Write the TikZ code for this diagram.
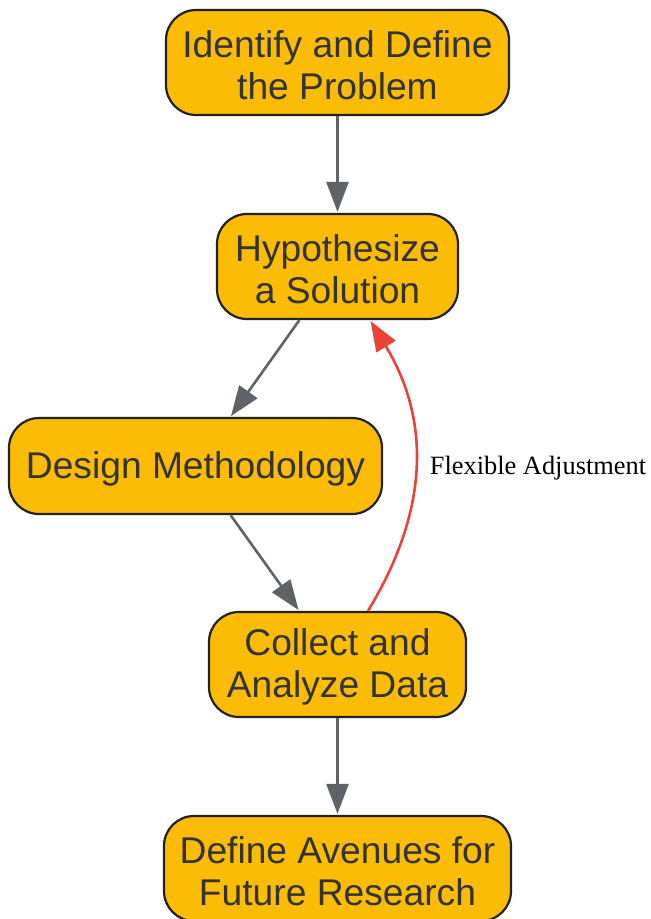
\documentclass[tikz,border=0pt]{standalone}
\usepackage{fontspec}
\setmainfont{Liberation Sans}
\newfontfamily\labelfont{Liberation Serif}
\usetikzlibrary{arrows.meta,calc}
\definecolor{boxfill}{HTML}{FBBC05}
\definecolor{boxline}{HTML}{222222}
\definecolor{boxtext}{HTML}{333333}
\definecolor{edgegray}{HTML}{5F6368}
\definecolor{edgered}{HTML}{EA4335}
\tikzset{
  stepbox/.style={draw=boxline, fill=boxfill, line width=2.2pt, rounded corners=30pt,
    align=center, text=boxtext, inner sep=0pt,
    font=\fontsize{37.2}{42.5}\selectfont},
  steptext/.style={yshift=-2.5pt},
  flow/.style={draw=edgegray, line width=2.6pt, -{Triangle[length=30pt,width=22pt]}, shorten >=1pt},
  adjust/.style={draw=edgered, line width=2.6pt, -{Triangle[length=30pt,width=22pt]}, shorten >=1pt},
  edgelabel/.style={font=\labelfont\fontsize{26.4}{30}\selectfont, text=black, inner sep=0pt}
}
\begin{document}
\begin{tikzpicture}[x=1pt,y=-1pt]
\useasboundingbox (0,0) rectangle (651,919);
\node[stepbox, minimum width=343pt, minimum height=105pt] (n1) at (337.5,62.5) {};
\node[stepbox, minimum width=241pt, minimum height=105pt] (n2) at (337.5,266.5) {};
\node[stepbox, minimum width=373pt, minimum height=96pt] (n3) at (195.5,466) {};
\node[stepbox, minimum width=257pt, minimum height=105pt] (n4) at (337.5,664.5) {};
\node[stepbox, minimum width=347pt, minimum height=105pt] (n5) at (337.5,868.5) {};
\node[stepbox, draw=none, fill=none, steptext] (t1) at (n1) {Identify and Define\\the Problem};
\node[stepbox, draw=none, fill=none, steptext] (t2) at (n2) {Hypothesize\\a Solution};
\node[stepbox, draw=none, fill=none, steptext] (t3) at (n3) {Design Methodology};
\node[stepbox, draw=none, fill=none, steptext] (t4) at (n4) {Collect and\\Analyze Data};
\node[stepbox, draw=none, fill=none, steptext] (t5) at (n5) {Define Avenues for\\Future Research};
\node[edgelabel] (lab) at (538,468) {Flexible Adjustment};
\draw[flow] (n1) -- (n2);
\draw[flow] (n2) -- (n3);
\draw[flow] (n3) -- (n4);
\draw[flow] (n4) -- (n5);
\draw[adjust] ([xshift=30.5pt]n4.north) .. controls +(62,-102) and +(60,99) .. ([xshift=32.5pt]n2.south);
\end{tikzpicture}
\end{document}
